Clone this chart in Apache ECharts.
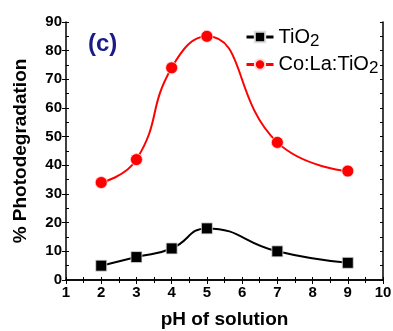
<!DOCTYPE html>
<html>
<head>
<meta charset="utf-8">
<script src="https://cdn.jsdelivr.net/npm/echarts@6/dist/echarts.min.js"></script>
<style>
  html, body { margin: 0; padding: 0; background: #fff; }
  #chart { width: 393px; height: 331px; }
</style>
</head>
<body>
<div id="chart"></div>
<script>
// pH values and % photodegradation
var phValues = [2, 3, 4, 5, 7, 9];
var tio2 = [5, 8, 11, 18, 10, 6];
var coLaTio2 = [34, 42, 74, 85, 48, 38];
var seriesNames = ["TiO2", "Co:La:TiO2"];

function pairs(ys) {
  return phValues.map(function (x, i) { return [x, ys[i]]; });
}

var font = "Liberation Sans, Arial, sans-serif";
var chart = echarts.init(document.getElementById("chart"));

// hidden helper axes only carry the inward ticks / frame
function frameX(pos, showLine) {
  return {
    type: "value", position: pos, min: 1, max: 10, interval: 0.5,
    axisLine: { show: showLine, lineStyle: { color: "#000", width: 1.5 } },
    axisTick: { show: true, inside: true, length: 3, lineStyle: { color: "#000" } },
    axisLabel: { show: false }, splitLine: { show: false }
  };
}
function frameY(pos, showLine) {
  return {
    type: "value", position: pos, min: 0, max: 90, interval: 5,
    axisLine: { show: showLine, lineStyle: { color: "#000", width: 1.5 } },
    axisTick: { show: true, inside: true, length: 3, lineStyle: { color: "#000" } },
    axisLabel: { show: false }, splitLine: { show: false }
  };
}

chart.setOption({
  animation: false,
  grid: { left: 66, right: 10, top: 22, bottom: 51, outerBoundsMode: "none", containLabel: false },
  legend: {
    orient: "vertical",
    left: 240,
    top: 22,
    itemGap: 5,
    itemWidth: 27,
    itemHeight: 13,
    data: seriesNames,
    lineStyle: { width: 3 },
    formatter: function (name) {
      return name.replace("TiO2", "TiO{sub|2}");
    },
    textStyle: {
      fontFamily: font, fontSize: 20, color: "#000",
      rich: { sub: { fontFamily: font, fontSize: 17, color: "#000", padding: [8, 0, 0, 0] } }
    }
  },
  graphic: [{
    type: "text", left: 88, top: 32,
    style: { text: "(c)", font: "bold 24px " + font, fill: "#1b1b86" }
  }],
  xAxis: [{
    type: "value", position: "bottom", min: 1, max: 10, interval: 1,
    name: "pH of solution", nameLocation: "middle", nameGap: 30,
    nameTextStyle: { fontFamily: font, fontSize: 19, fontWeight: "bold", color: "#000" },
    axisLine: { show: true, lineStyle: { color: "#000", width: 1.5 } },
    axisTick: { show: true, inside: false, length: 4, lineStyle: { color: "#000" } },
    axisLabel: { fontFamily: font, fontSize: 15, fontWeight: "bold", color: "#000", margin: 5 },
    splitLine: { show: false }
  }, frameX("bottom", false), frameX("top", true)],
  yAxis: [{
    type: "value", position: "left", min: 0, max: 90, interval: 10,
    name: "% Photodegradation", nameLocation: "middle", nameGap: 36,
    nameTextStyle: { fontFamily: font, fontSize: 19, fontWeight: "bold", color: "#000" },
    axisLine: { show: true, lineStyle: { color: "#000", width: 1.5 } },
    axisTick: { show: true, inside: false, length: 4, lineStyle: { color: "#000" } },
    axisLabel: { fontFamily: font, fontSize: 15, fontWeight: "bold", color: "#000", margin: 4 },
    splitLine: { show: false }
  }, frameY("left", false), frameY("right", true)],
  series: [{
    name: seriesNames[0], type: "line", smooth: 0.5,
    data: pairs(tio2),
    symbol: "rect", symbolSize: 11,
    lineStyle: { color: "#000", width: 2 },
    itemStyle: { color: "#000", borderColor: "#ddd", borderWidth: 0.8 }
  }, {
    name: seriesNames[1], type: "line", smooth: 0.5,
    data: pairs(coLaTio2),
    symbol: "circle", symbolSize: 12,
    lineStyle: { color: "#ff0000", width: 2 },
    itemStyle: { color: "#ff0000", borderColor: "#ffdada", borderWidth: 0.8 }
  }]
});
</script>
</body>
</html>
